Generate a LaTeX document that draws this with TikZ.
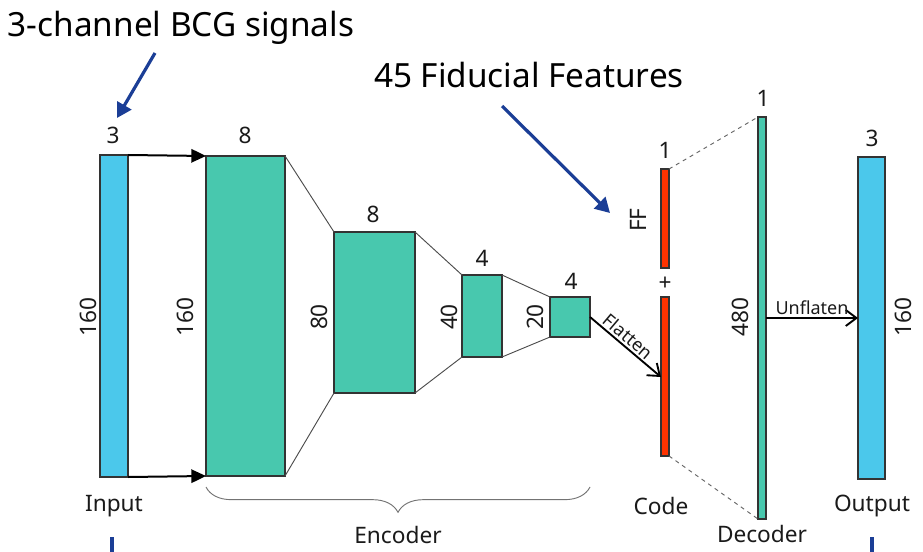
\documentclass[tikz,border=0pt]{standalone}
\usepackage{fontspec}
\setmainfont{Noto Sans}
\usetikzlibrary{arrows.meta,calc,decorations.pathreplacing}
\definecolor{inblue}{HTML}{4BC8EB}
\definecolor{teal2}{HTML}{48C8AE}
\definecolor{codered}{HTML}{FF3300}
\definecolor{annblue}{HTML}{1B3E96}
\definecolor{txt}{HTML}{1A1A1A}
\begin{document}
\begin{tikzpicture}[x=0.75pt,y=-0.75pt,
  blk/.style={draw=black!80, line width=0.9pt, inner sep=0pt, outer sep=0pt, anchor=north west},
  lab/.style={font=\fontsize{17}{20}\selectfont, text=txt, inner sep=0pt},
  vlab/.style={lab, rotate=90},
  small/.style={font=\fontsize{13.5}{16}\selectfont, text=txt, inner sep=1.5pt},
  big/.style={font=\fontsize{25}{30}\selectfont, text=black, inner sep=0pt},
  fan/.style={draw=black!70, line width=0.7pt},
  dashfan/.style={draw=black!60, line width=0.7pt, dashed},
  fwd/.style={draw=black, line width=1.5pt, -{Triangle[length=11pt,width=10pt]}},
  opn/.style={draw=black, line width=1.4pt, -{Straight Barb[length=8pt,width=12pt]}},
  ann/.style={draw=annblue, line width=2.4pt, -{Triangle[length=11pt,width=12pt]}},
  tick/.style={draw=annblue, line width=2.4pt}
]
\useasboundingbox (0,0) rectangle (923,552);

% blocks
\node[blk, fill=inblue, minimum width=28*0.75pt, minimum height=322*0.75pt] (in) at (100,155) {};
\node[blk, fill=teal2, minimum width=79*0.75pt, minimum height=320*0.75pt] (b1) at (206,156) {};
\node[blk, fill=teal2, minimum width=81*0.75pt, minimum height=161*0.75pt] (b2) at (334,232) {};
\node[blk, fill=teal2, minimum width=40*0.75pt, minimum height=82*0.75pt] (b3) at (462,275) {};
\node[blk, fill=teal2, minimum width=40*0.75pt, minimum height=40*0.75pt] (b4) at (550,297) {};
\node[blk, fill=codered, minimum width=8*0.75pt, minimum height=99*0.75pt] (ff) at (661,169) {};
\node[blk, fill=codered, minimum width=8*0.75pt, minimum height=159*0.75pt] (cd) at (661,297) {};
\node[blk, fill=teal2, minimum width=8*0.75pt, minimum height=402*0.75pt] (dec) at (758,117) {};
\node[blk, fill=inblue, minimum width=27*0.75pt, minimum height=322*0.75pt] (out) at (858,157) {};

% fan lines
\draw[fan] (b1.north east) -- (b2.north west);
\draw[fan] (b1.south east) -- (b2.south west);
\draw[fan] (b2.north east) -- (b3.north west);
\draw[fan] (b2.south east) -- (b3.south west);
\draw[fan] (b3.north east) -- (b4.north west);
\draw[fan] (b3.south east) -- (b4.south west);
\draw[dashfan] (ff.north east) -- (dec.north west);
\draw[dashfan] (cd.south east) -- (dec.south west);

% arrows
\draw[fwd] (in.north east) -- (b1.north west);
\draw[fwd] (in.south east) -- (b1.south west);
\coordinate (flatEnd) at ($(cd.north west)+(0,80)$);
\draw[opn] (b4.east) -- node[small, pos=0.45, sloped, above] {Flatten} (flatEnd);
\draw[opn] (dec.east) -- node[small, midway, above] {Unflaten} (out.west);

% brace
\coordinate (brL) at ($(b1.south west)+(0,11)$);
\coordinate (brR) at ($(b4.east |- b1.south)+(0,11)$);
\draw[draw=black!55, line width=0.7pt, decorate, decoration={brace, mirror, amplitude=19pt}] (brL) -- (brR);

% top labels
\node[lab] (tin) at (113,135) {3};
\node[lab] (t1) at (245,135) {8};
\node[lab] (t2) at (373,214) {8};
\node[lab] (t3) at (482,258) {4};
\node[lab] (t4) at (571,281) {4};
\node[lab] (tff) at (665,150) {1};
\node[lab] (tdec) at (763,98) {1};
\node[lab] (tout) at (872,138) {3};
\node[lab] (plus) at (665,284) {+};

% side labels
\node[vlab] (sin) at (88,317) {160};
\node[vlab] (s1) at (185,317) {160};
\node[vlab] (s2) at (319,317) {80};
\node[vlab] (s3) at (449,317) {40};
\node[vlab] (s4) at (535,317) {20};
\node[vlab] (sff) at (638,220) {FF};
\node[vlab] (sdec) at (740,317) {480};
\node[vlab] (sout) at (903,317) {160};

% bottom labels
\node[lab] (lin) at (114,506) {Input};
\node[lab] (lenc) at (398,535) {Encoder};
\node[lab] (lcode) at (661,506) {Code};
\node[lab] (ldec) at (762,534) {Decoder};
\node[lab] (lout) at (872,506) {Output};

\coordinate (tkA1) at (112,537); \coordinate (tkA2) at (112,552);
\coordinate (tkB1) at (872,537); \coordinate (tkB2) at (872,552);
\draw[tick] (tkA1) -- (tkA2);
\draw[tick] (tkB1) -- (tkB2);

% annotations
\node[big] (bcg) at (181,28) {3-channel BCG signals};
\node[big] (fid) at (529,75) {45 Fiducial Features};
\coordinate (a1s) at (155,53); \coordinate (a1e) at (117,118);
\coordinate (a2s) at (502,106); \coordinate (a2e) at (610,213);
\draw[ann] (a1s) -- (a1e);
\draw[ann] (a2s) -- (a2e);
\end{tikzpicture}
\end{document}
